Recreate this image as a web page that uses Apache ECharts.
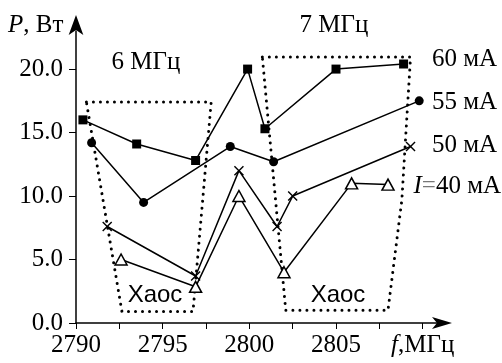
<!DOCTYPE html>
<html>
<head>
<meta charset="utf-8">
<script src="https://cdn.jsdelivr.net/npm/echarts@6/dist/echarts.min.js"></script>
<style>
html, body { margin: 0; padding: 0; background: #fff; }
#chart { width: 502px; height: 363px; }
</style>
</head>
<body>
<div id="chart"></div>
<script>
// readings, f in MHz, P in W
var freq60 = [2790.4, 2793.5, 2796.9, 2799.9, 2800.9, 2805.0, 2808.9];
var p60    = [16.0, 14.1, 12.8, 20.0, 15.3, 20.0, 20.4];
var freq55 = [2790.9, 2793.9, 2798.9, 2801.4, 2809.8];
var p55    = [14.2, 9.5, 13.9, 12.7, 17.5];
var freq50 = [2791.8, 2796.9, 2799.4, 2801.6, 2802.5, 2809.3];
var p50    = [7.6, 3.7, 12.0, 7.6, 10.0, 13.9];
var freq40 = [2792.6, 2796.9, 2799.4, 2802.0, 2805.9, 2808.0];
var p40    = [5.0, 2.85, 10.0, 4.0, 11.0, 10.9];

// chaos regions (dotted outlines)
var chaos1X = [2790.6, 2797.8, 2796.75, 2792.65, 2790.6];
var chaos1Y = [17.4, 17.4, 0.9, 0.9, 17.4];
var chaos2X = [2800.75, 2809.3, 2808.8, 2808.0, 2802.1, 2800.75];
var chaos2Y = [20.95, 20.95, 9.7, 1.0, 1.0, 20.95];

var xTicks  = [2790, 2792.5, 2795, 2797.5, 2800, 2802.5, 2805, 2807.5, 2810];
var xLabels = [2790, 2795, 2800, 2805, 2810];
var yTicks  = [0, 5, 10, 15, 20];

function pairs(xs, ys) {
    return xs.map(function (x, i) { return [x, ys[i]]; });
}

var serif = 'Liberation Serif';
var sans = 'Liberation Sans';
var crossPath = 'path://M0,1L1,0L5,4L9,0L10,1L6,5L10,9L9,10L5,6L1,10L0,9L4,5Z';

function dataLine(name, data, symbol, size, fill) {
    return {
        name: name,
        type: 'line',
        data: data,
        symbol: symbol,
        symbolSize: size,
        showAllSymbol: true,
        z: 3,
        lineStyle: { color: '#000', width: 1.5 },
        itemStyle: { color: fill, borderColor: '#000', borderWidth: symbol === 'triangle' ? 1.5 : 0 },
        emphasis: { disabled: true }
    };
}

function dottedBox(data) {
    return {
        type: 'line',
        data: data,
        symbol: 'none',
        z: 1,
        lineStyle: { color: '#000', width: 3, type: [0.01, 7], cap: 'round' },
        emphasis: { disabled: true }
    };
}

function label(x, y, text, align, family, size, rich) {
    return {
        type: 'text',
        z: 10,
        style: {
            x: x, y: y, text: text,
            fontFamily: family, fontSize: size, fill: '#000',
            textAlign: align, textVerticalAlign: 'middle',
            rich: rich
        }
    };
}

var italic = { fontStyle: 'italic', fontFamily: serif, fontSize: 25, fill: '#000' };

var option = {
    backgroundColor: '#fff',
    animation: false,
    grid: {
        left: 76, right: 62, top: 31, bottom: 40,
        containLabel: false,
        outerBoundsMode: 'none'
    },
    xAxis: {
        type: 'value',
        min: 2790,
        max: 2811,
        splitLine: { show: false },
        axisLine: {
            onZero: false,
            lineStyle: { color: '#000', width: 1.5 },
            symbol: ['none', 'arrow'],
            symbolSize: [9, 20],
            symbolOffset: [0, 12]
        },
        axisTick: {
            customValues: xTicks,
            inside: false,
            length: 6,
            lineStyle: { color: '#000', width: 1 }
        },
        axisLabel: {
            customValues: xLabels,
            margin: 10,
            color: '#000',
            fontFamily: serif,
            fontSize: 25,
            formatter: function (v) {
                return v === 2810 ? '{i|f},МГц' : String(v);
            },
            rich: {
                i: { fontStyle: 'italic', fontFamily: serif, fontSize: 25, color: '#000' }
            }
        }
    },
    yAxis: {
        type: 'value',
        min: 0,
        max: 23,
        splitLine: { show: false },
        axisLine: {
            onZero: false,
            lineStyle: { color: '#000', width: 1.5 },
            symbol: ['none', 'arrow'],
            symbolSize: [11, 20],
            symbolOffset: [0, 16]
        },
        axisTick: {
            customValues: yTicks,
            inside: false,
            length: 7,
            lineStyle: { color: '#000', width: 1 }
        },
        axisLabel: {
            customValues: yTicks,
            margin: 13,
            color: '#000',
            fontFamily: serif,
            fontSize: 25,
            formatter: function (v) { return v.toFixed(1); }
        }
    },
    graphic: [
        label(8, 25, '{i|P}, Вт', 'left', serif, 25, { i: italic }),
        label(146, 62, '6 МГц', 'center', serif, 25),
        label(334, 25, '7 МГц', 'center', serif, 25),
        label(432, 59, '60 мА', 'left', serif, 25),
        label(432, 102, '55 мА', 'left', serif, 25),
        label(432, 145, '50 мА', 'left', serif, 25),
        label(501, 186, '{i|I}{g|=}40 мА', 'right', serif, 25,
            { i: italic, g: { fontFamily: serif, fontSize: 25, fill: '#777' } }),
        label(155, 295, 'Хаос', 'center', sans, 24),
        label(338, 295, 'Хаос', 'center', sans, 24)
    ],
    series: [
        dottedBox(pairs(chaos1X, chaos1Y)),
        dottedBox(pairs(chaos2X, chaos2Y)),
        dataLine('60 мА', pairs(freq60, p60), 'rect', 9, '#000'),
        dataLine('55 мА', pairs(freq55, p55), 'circle', 9, '#000'),
        dataLine('50 мА', pairs(freq50, p50), crossPath, 10, '#000'),
        dataLine('40 мА', pairs(freq40, p40), 'triangle', [12, 11], '#fff')
    ]
};

var chart = echarts.init(document.getElementById('chart'));
chart.setOption(option);
</script>
</body>
</html>
